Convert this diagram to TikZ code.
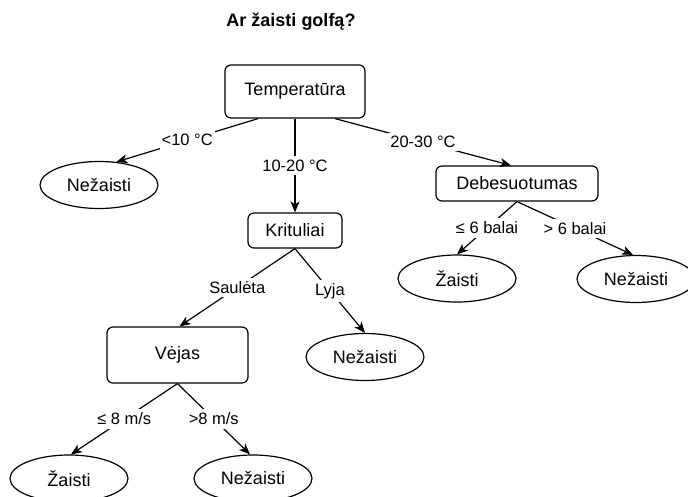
\documentclass[tikz,border=0pt]{standalone}
\usepackage{fontspec}
\setmainfont{Liberation Sans}
\usetikzlibrary{arrows.meta,shapes.geometric}
\tikzset{
  decbox/.style   ={draw=black, fill=white, rounded corners=6pt, line width=1.2pt,
                    align=center, inner sep=2pt, font=\fontsize{18}{21}\selectfont},
  leafnode/.style ={draw=black, fill=white, ellipse, line width=1.2pt,
                    minimum width=118pt, minimum height=47pt, inner sep=0pt,
                    font=\fontsize{18}{21}\selectfont},
  edgearr/.style  ={-{Stealth[length=11pt,width=9pt,inset=3pt]}, line width=1.2pt},
  edgelbl/.style  ={fill=white, inner xsep=2pt, inner ysep=3.5pt, font=\fontsize{16.5}{19}\selectfont},
}
\begin{document}
\begin{tikzpicture}[x=1pt,y=-1pt]
    \useasboundingbox (0,0) rectangle (688,496);

    % title
    \node[font=\fontsize{18}{21}\selectfont\bfseries] (title) at (291,22) {Ar žaisti golfą?};

    % decision nodes
    \node[decbox,minimum width=140pt,minimum height=53pt] (temp)  at (295,91.5)  {Temperatūra};
    \node[decbox,minimum width=94pt,minimum height=35pt]  (krit)  at (295,230.5) {Krituliai};
    \node[decbox,minimum width=162pt,minimum height=35pt] (debes) at (517,183.5) {Debesuotumas};
    \node[decbox,minimum width=141pt,minimum height=56pt] (vejas) at (177.5,355) {Vėjas};

    % leaves
    \node[leafnode] (nez1) at (99,185)    {Nežaisti};
    \node[leafnode] (zai1) at (457,278.5) {Žaisti};
    \node[leafnode] (nez2) at (636,279)   {Nežaisti};
    \node[leafnode] (nez3) at (365,357)   {Nežaisti};
    \node[leafnode] (zai2) at (69,478.5)  {Žaisti};
    \node[leafnode] (nez4) at (253,478.5) {Nežaisti};

    % temperature branches
    \draw[edgearr] ([xshift=-37pt]temp.south) -- node[edgelbl] {<10 °C} (nez1.53);
    \draw[edgearr] (temp.south) -- node[edgelbl] {10-20 °C} (krit.north);
    \draw[edgearr] ([xshift=40pt]temp.south) -- node[edgelbl] {20-30 °C} ([xshift=-6pt]debes.north);

    % cloudiness branches
    \draw[edgearr] (debes.south) -- node[edgelbl] {≤ 6 balai} (zai1.north);
    \draw[edgearr] (debes.south) -- node[edgelbl] {> 6 balai} ([xshift=-3pt]nez2.north);

    % precipitation branches
    \draw[edgearr] (krit.south) -- node[edgelbl] {Saulėta} ([xshift=2pt]vejas.north);
    \draw[edgearr] (krit.south) -- node[edgelbl] {Lyja} (nez3.north);

    % wind branches
    \draw[edgearr] (vejas.south) -- node[edgelbl] {≤ 8 m/s} ([xshift=2pt]zai2.north);
    \draw[edgearr] (vejas.south) -- node[edgelbl] {>8 m/s} ([xshift=-3pt]nez4.north);
  \end{tikzpicture}
\end{document}
